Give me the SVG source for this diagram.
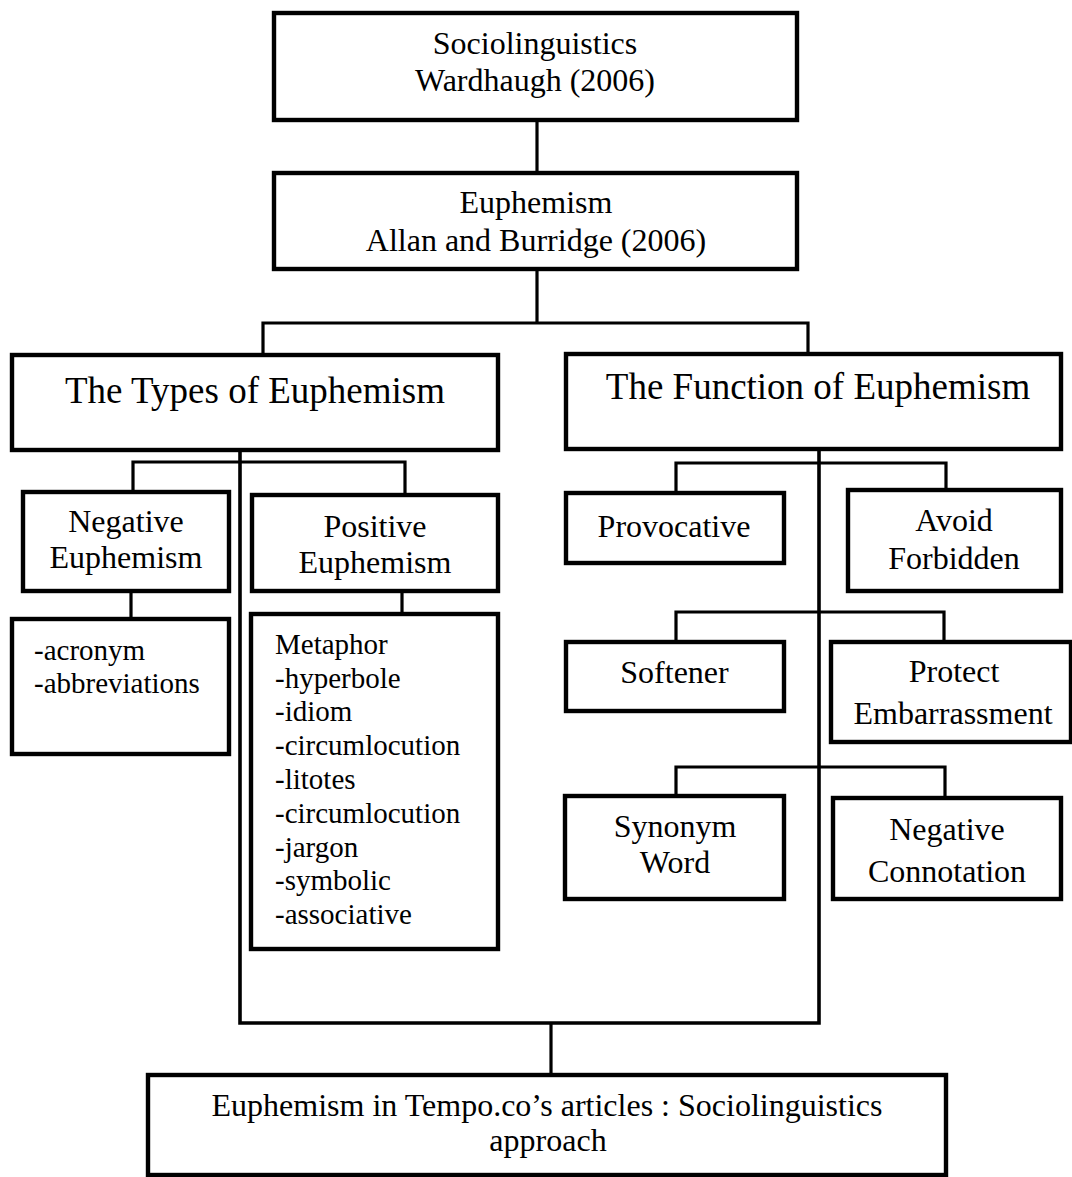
<svg xmlns="http://www.w3.org/2000/svg" width="1072" height="1177" viewBox="0 0 1072 1177">
<style>
.box{fill:#fff;stroke:#000;stroke-width:4.4}
.conn{fill:none;stroke:#000;stroke-width:3.2}
text{font-family:"Liberation Serif","Times New Roman",serif;fill:#000}
.t32{font-size:32px;text-anchor:middle}
.t37{font-size:37px;text-anchor:middle}
.t29{font-size:29px;text-anchor:start}
</style>
<rect width="1072" height="1177" fill="#fff"/>
<g id="connectors">
<path class="conn" d="M537 120V173"/>
<path class="conn" d="M537 269V323M263 357V323H808V360"/>
<path class="conn" d="M240 450V1023H819V445" style="stroke-width:3.6"/>
<path class="conn" d="M133 491V462H405V494"/>
<path class="conn" d="M131 591V619"/>
<path class="conn" d="M402 591V618"/>
<path class="conn" d="M676 493V463H946V490"/>
<path class="conn" d="M676 642V612H944V642"/>
<path class="conn" d="M676 796V767H945V798"/>
<path class="conn" d="M551 1023V1075"/>
</g>
<g id="sociolinguistics">
<rect class="box" x="274" y="13" width="523" height="107"/>
<text class="t32" x="535" y="54">Sociolinguistics</text>
<text class="t32" x="535" y="91">Wardhaugh (2006)</text>
</g>
<g id="euphemism">
<rect class="box" x="274" y="173" width="523" height="96"/>
<text class="t32" x="536" y="213">Euphemism</text>
<text class="t32" x="536" y="251">Allan and Burridge (2006)</text>
</g>
<g id="types">
<rect class="box" x="12" y="355" width="486" height="95"/>
<text class="t37" x="255" y="403">The Types of Euphemism</text>
</g>
<g id="function">
<rect class="box" x="566" y="354" width="495" height="95"/>
<text class="t37" x="818" y="399">The Function of Euphemism</text>
</g>
<g id="negative-euphemism">
<rect class="box" x="23" y="492" width="206" height="99"/>
<text class="t32" x="126" y="532">Negative</text>
<text class="t32" x="126" y="568">Euphemism</text>
</g>
<g id="positive-euphemism">
<rect class="box" x="252" y="495" width="246" height="96"/>
<text class="t32" x="375" y="537">Positive</text>
<text class="t32" x="375" y="573">Euphemism</text>
</g>
<g id="negative-list">
<rect class="box" x="12" y="619" width="217" height="135"/>
<text class="t29" x="34" y="660">-acronym</text>
<text class="t29" x="34" y="693">-abbreviations</text>
</g>
<g id="positive-list">
<rect class="box" x="251" y="614" width="247" height="335"/>
<text class="t29" x="275" y="654">Metaphor</text>
<text class="t29" x="275" y="687.5">-hyperbole</text>
<text class="t29" x="275" y="721">-idiom</text>
<text class="t29" x="275" y="755">-circumlocution</text>
<text class="t29" x="275" y="789">-litotes</text>
<text class="t29" x="275" y="822.5">-circumlocution</text>
<text class="t29" x="275" y="856.5">-jargon</text>
<text class="t29" x="275" y="890">-symbolic</text>
<text class="t29" x="275" y="923.5">-associative</text>
</g>
<g id="provocative">
<rect class="box" x="566" y="493" width="218" height="70"/>
<text class="t32" x="674" y="537">Provocative</text>
</g>
<g id="avoid-forbidden">
<rect class="box" x="848" y="490" width="213" height="101"/>
<text class="t32" x="954" y="531">Avoid</text>
<text class="t32" x="954" y="569">Forbidden</text>
</g>
<g id="softener">
<rect class="box" x="566" y="642" width="218" height="69"/>
<text class="t32" x="674.5" y="683">Softener</text>
</g>
<g id="protect-embarrassment">
<rect class="box" x="831" y="642" width="240" height="100"/>
<text class="t32" x="954" y="682">Protect</text>
<text class="t32" x="953" y="724">Embarrassment</text>
</g>
<g id="synonym-word">
<rect class="box" x="565" y="796" width="219" height="103"/>
<text class="t32" x="675" y="837">Synonym</text>
<text class="t32" x="675" y="873">Word</text>
</g>
<g id="negative-connotation">
<rect class="box" x="833" y="798" width="228" height="101"/>
<text class="t32" x="947" y="840">Negative</text>
<text class="t32" x="947" y="882">Connotation</text>
</g>
<g id="tempo">
<rect class="box" x="148" y="1075" width="798" height="100"/>
<text class="t32" x="547" y="1116">Euphemism in Tempo.co’s articles : Sociolinguistics</text>
<text class="t32" x="548" y="1151">approach</text>
</g>
</svg>
